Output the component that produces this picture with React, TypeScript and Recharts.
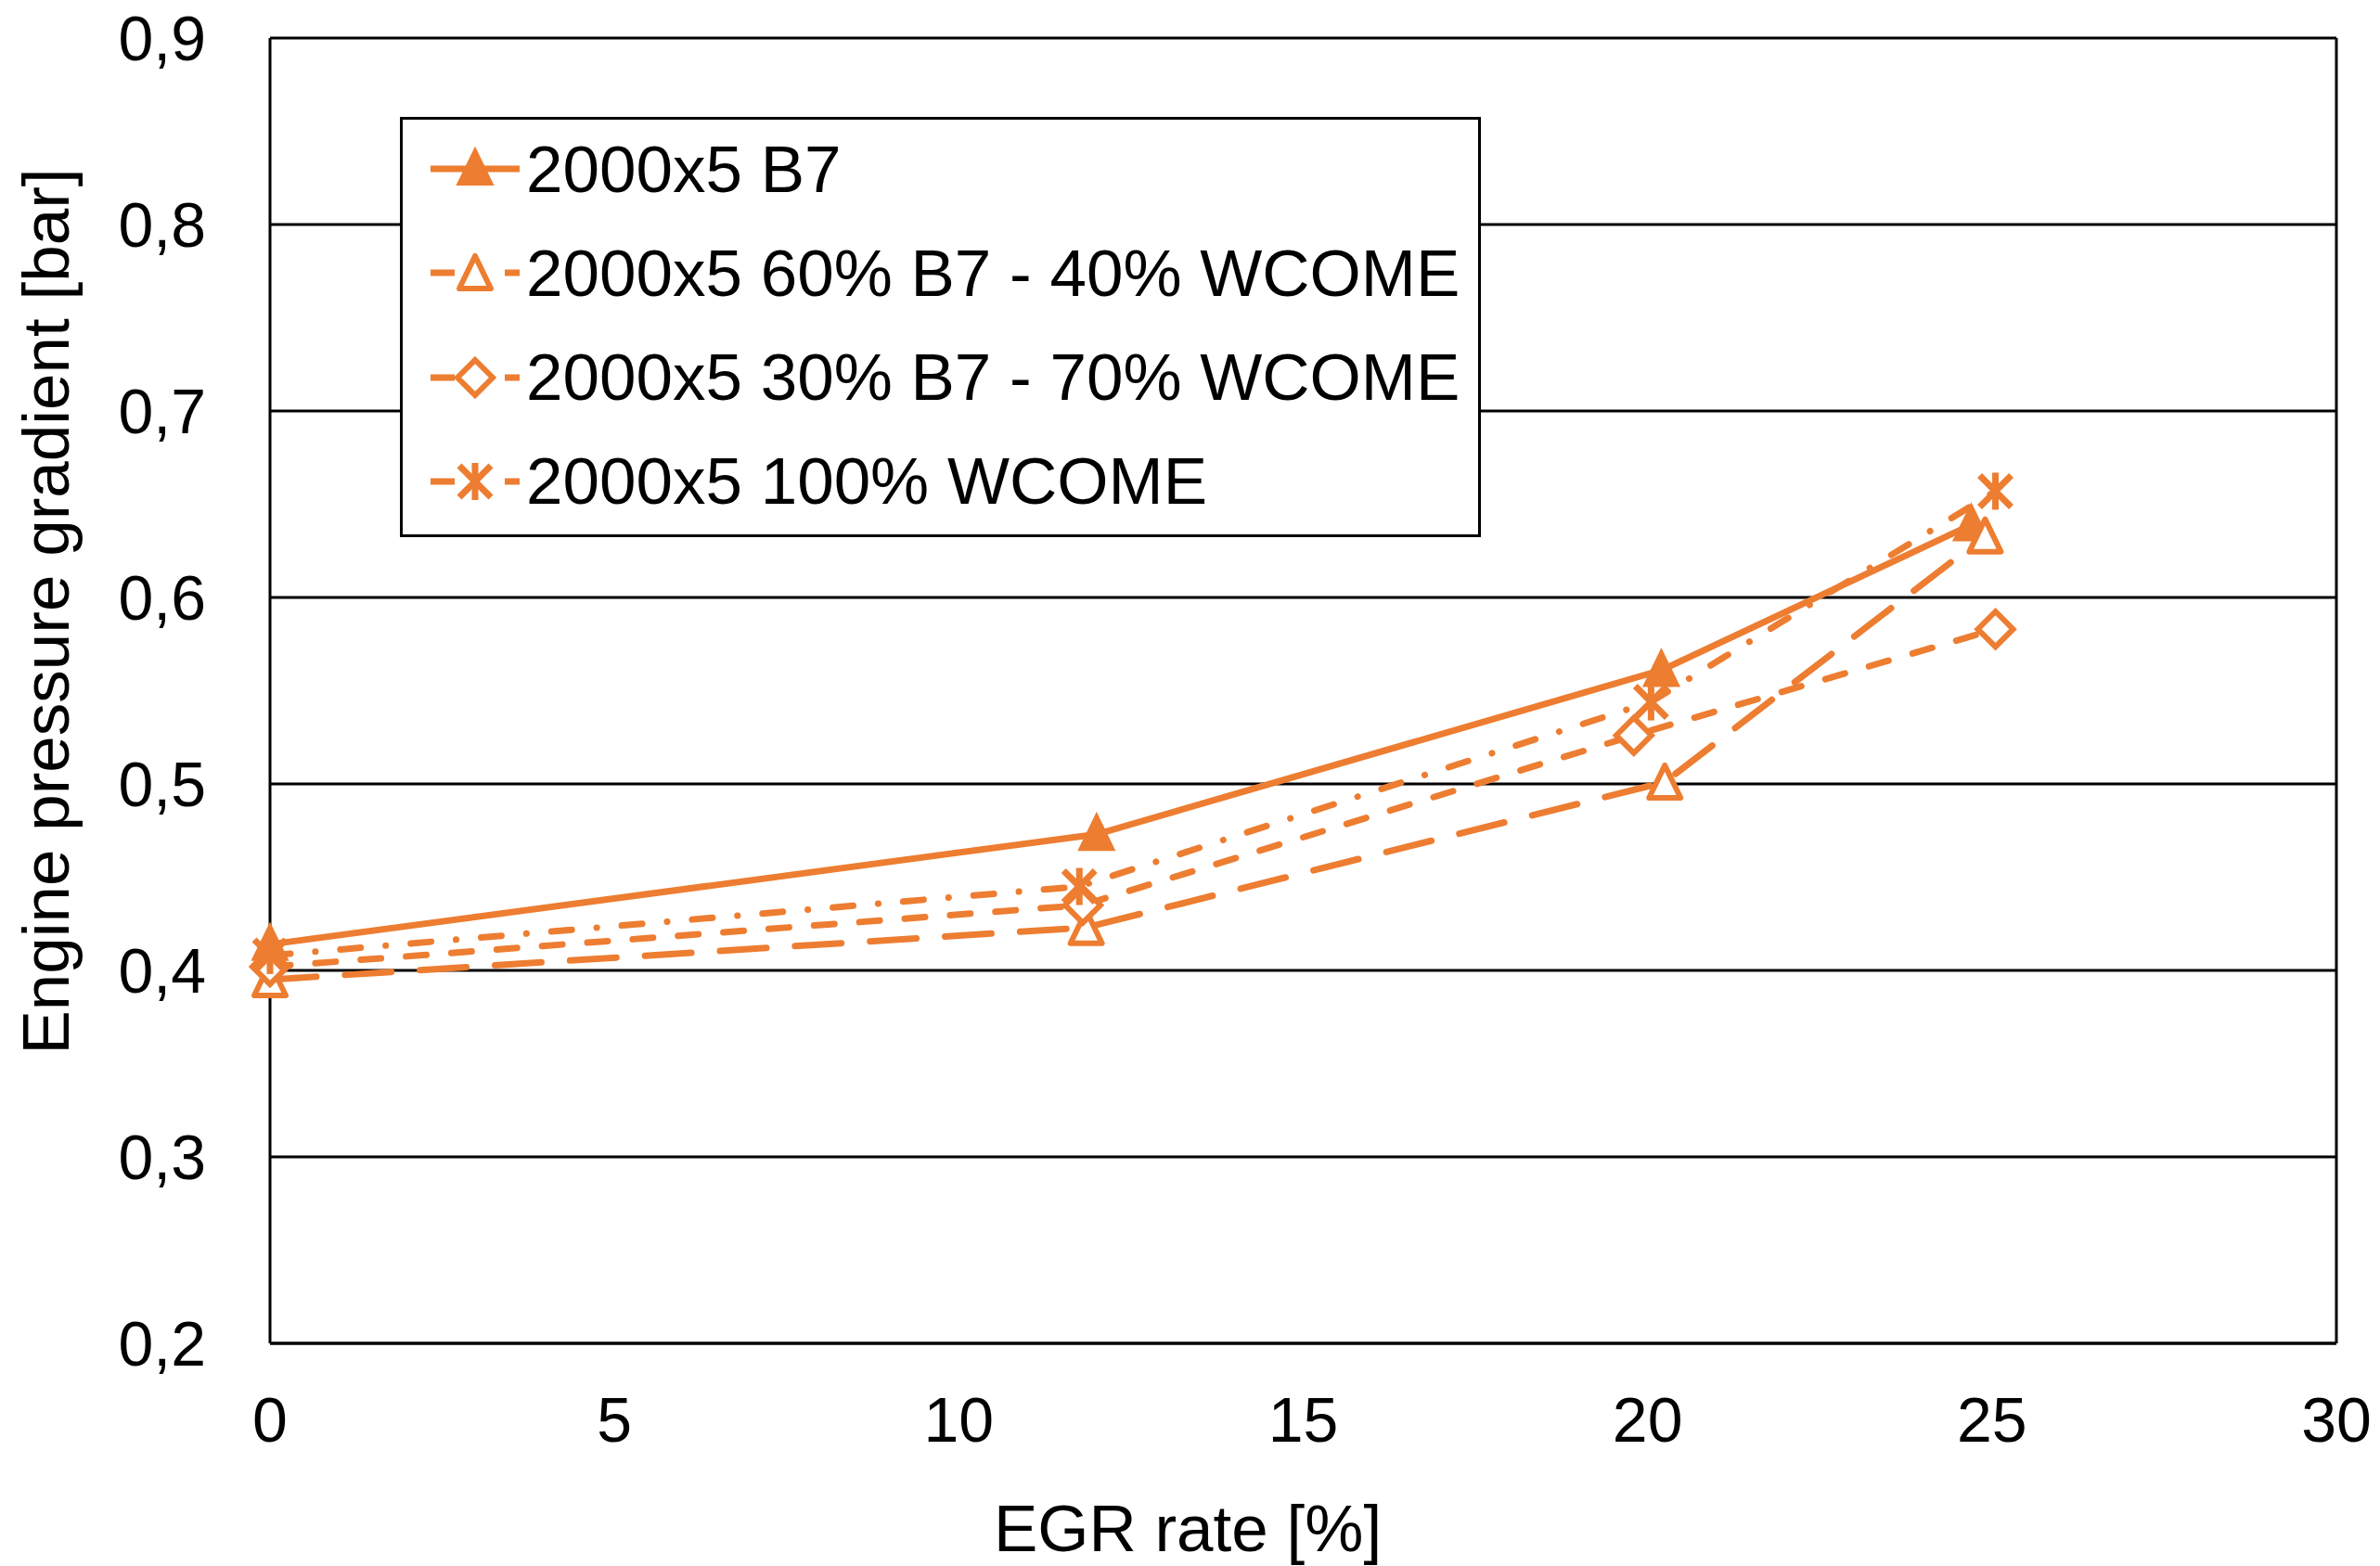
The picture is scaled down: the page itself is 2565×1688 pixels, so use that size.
import React from "react";
import {
  LineChart,
  Line,
  XAxis,
  YAxis,
  CartesianGrid,
  ReferenceLine,
  Legend,
} from "recharts";

const ORANGE = "#ED7D31";
const FONT = "Arial, 'Liberation Sans', Helvetica, sans-serif";

const xTicks = [0, 5, 10, 15, 20, 25, 30];
const yTicks = [0.2, 0.3, 0.4, 0.5, 0.6, 0.7, 0.8, 0.9];

// EGR rate [%] and gradient [bar] per fuel
const egrB7 = [0, 12.0, 20.2, 24.7];
const gradB7 = [0.414, 0.473, 0.561, 0.639];
const egr60 = [0, 11.85, 20.25, 24.9];
const grad60 = [0.395, 0.423, 0.501, 0.633];
const egr30 = [0, 11.8, 19.8, 25.05];
const grad30 = [0.402, 0.435, 0.526, 0.583];
const egr100 = [0, 11.75, 20.05, 25.05];
const grad100 = [0.408, 0.445, 0.544, 0.657];

const names = [
  "2000x5 B7",
  "2000x5 60% B7 - 40% WCOME",
  "2000x5 30% B7 - 70% WCOME",
  "2000x5 100% WCOME",
];

const toPoints = (xs: number[], ys: number[]) =>
  xs.map((x, i) => ({ x, y: ys[i] }));

type Kind = "triFilled" | "triOpen" | "diamond" | "star";

const series = [
  { name: names[0], data: toPoints(egrB7, gradB7), kind: "triFilled" as Kind, dash: undefined },
  { name: names[1], data: toPoints(egr60, grad60), kind: "triOpen" as Kind, dash: "50 31" },
  { name: names[2], data: toPoints(egr30, grad30), kind: "diamond" as Kind, dash: "22 27" },
  { name: names[3], data: toPoints(egr100, grad100), kind: "star" as Kind, dash: "22 27 0.1 27" },
];

function Marker({ kind, cx, cy }: { kind: Kind; cx?: number; cy?: number }) {
  if (cx == null || cy == null) return null;
  if (kind === "triFilled")
    return (
      <polygon
        points={`${cx},${cy - 22} ${cx + 19},${cy + 17} ${cx - 19},${cy + 17}`}
        fill={ORANGE}
        stroke={ORANGE}
        strokeWidth={2}
      />
    );
  if (kind === "triOpen")
    return (
      <polygon
        points={`${cx},${cy - 18} ${cx + 17},${cy + 17} ${cx - 17},${cy + 17}`}
        fill="#fff"
        stroke={ORANGE}
        strokeWidth={6}
        strokeLinejoin="round"
      />
    );
  if (kind === "diamond")
    return (
      <polygon
        points={`${cx},${cy - 19} ${cx + 19},${cy} ${cx},${cy + 19} ${cx - 19},${cy}`}
        fill="#fff"
        stroke={ORANGE}
        strokeWidth={6}
      />
    );
  return (
    <g stroke={ORANGE} strokeWidth={7}>
      <line x1={cx - 17} y1={cy - 17} x2={cx + 17} y2={cy + 17} />
      <line x1={cx - 17} y1={cy + 17} x2={cx + 17} y2={cy - 17} />
      <line x1={cx} y1={cy - 20} x2={cx} y2={cy + 20} />
    </g>
  );
}

function LegendBox() {
  return (
    <div
      style={{
        width: 1165,
        height: 453,
        border: "3px solid #000",
        boxSizing: "border-box",
        background: "#fff",
        position: "relative",
        fontFamily: FONT,
      }}
    >
      {series.map((s, i) => (
        <div
          key={s.name}
          style={{
            position: "absolute",
            left: 30,
            top: 23 + i * 112.3,
            height: 60,
            display: "flex",
            alignItems: "center",
            whiteSpace: "nowrap",
          }}
        >
          <svg width={96} height={60} style={{ overflow: "visible" }}>
            {s.dash ? (
              <g stroke={ORANGE} strokeWidth={7}>
                <line x1={0} y1={30} x2={26} y2={30} />
                <line x1={80} y1={30} x2={96} y2={30} />
              </g>
            ) : (
              <line x1={0} y1={30} x2={96} y2={30} stroke={ORANGE} strokeWidth={7} />
            )}
            <Marker kind={s.kind} cx={48} cy={30} />
          </svg>
          <span style={{ fontSize: 71, marginLeft: 7, color: "#000" }}>{s.name}</span>
        </div>
      ))}
    </div>
  );
}

const fmtY = (v: number) => v.toFixed(1).replace(".", ",");

export default function App() {
  return (
    <div style={{ width: 2565, height: 1688, background: "#fff" }}>
      <style>{"body{margin:0;background:#fff}"}</style>
      <LineChart
        width={2565}
        height={1688}
        margin={{ top: 41, right: 47, bottom: 0, left: 0 }}
      >
        <CartesianGrid vertical={false} stroke="#000" strokeWidth={3} />
        <XAxis
          type="number"
          dataKey="x"
          domain={[0, 30]}
          ticks={xTicks}
          interval={0}
          height={240}
          tickSize={0}
          tickLine={false}
          tickMargin={58}
          axisLine={{ stroke: "#000", strokeWidth: 3 }}
          tick={{ fill: "#000", fontSize: 68, fontFamily: FONT }}
          label={{
            content: (props: any) => {
              const vb = props.viewBox || { x: 291, y: 1448 };
              return (
                <text
                  x={vb.x + 989}
                  y={vb.y + 224}
                  textAnchor="middle"
                  fill="#000"
                  fontSize={71}
                  fontFamily={FONT}
                >
                  EGR rate [%]
                </text>
              );
            },
          }}
        />
        <YAxis
          type="number"
          domain={[0.2, 0.9]}
          ticks={yTicks}
          interval={0}
          width={291}
          tickSize={0}
          tickLine={false}
          tickMargin={69}
          tickFormatter={fmtY}
          axisLine={{ stroke: "#000", strokeWidth: 3 }}
          tick={{ fill: "#000", fontSize: 68, fontFamily: FONT }}
          label={{
            content: (props: any) => {
              const vb = props.viewBox || { x: 0, y: 41 };
              return (
                <text
                  transform={`translate(${vb.x + 74}, ${vb.y + 618}) rotate(-90)`}
                  x={0}
                  y={0}
                  textAnchor="middle"
                  fill="#000"
                  fontSize={71}
                  fontFamily={FONT}
                >
                  Engine pressure gradient [bar]
                </text>
              );
            },
          }}
        />
        <ReferenceLine x={30} stroke="#000" strokeWidth={3} />
        <Legend
          layout="vertical"
          align="center"
          verticalAlign="middle"
          content={() => <LegendBox />}
          wrapperStyle={{ position: "absolute", left: 431, top: 126, width: 1165, height: 453 }}
        />
        {series.map((s) => (
          <Line
            key={s.name}
            name={s.name}
            data={s.data}
            dataKey="y"
            type="linear"
            stroke={ORANGE}
            strokeWidth={7}
            strokeDasharray={s.dash}
            strokeLinecap="round"
            isAnimationActive={false}
            dot={(p: any) => <Marker key={`${s.name}-${p.index}`} kind={s.kind} cx={p.cx} cy={p.cy} />}
            activeDot={false}
          />
        ))}
      </LineChart>
    </div>
  );
}
